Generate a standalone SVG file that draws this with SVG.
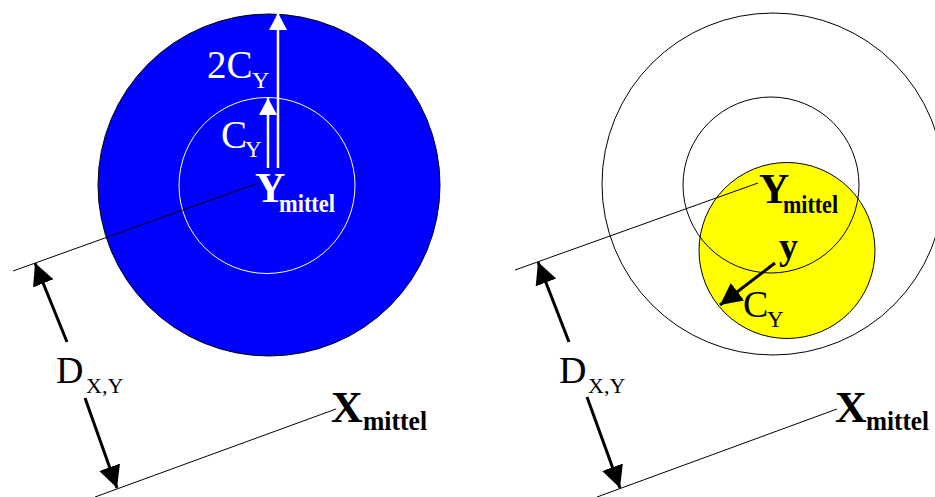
<svg xmlns="http://www.w3.org/2000/svg" width="935" height="497" viewBox="0 0 935 497">
<style>
.serif{font-family:"Liberation Serif","Times New Roman",serif}
.w{fill:#fff}
.k{fill:#000}
.b{font-weight:bold}
.thin{stroke:#000;stroke-width:1;fill:none}
.arrK{stroke:#000;stroke-width:3;fill:none;marker-end:url(#headK)}
.arrW{stroke:#fff;stroke-width:2.5;fill:none;marker-end:url(#headW)}
</style>
<defs>
<marker id="headK" markerUnits="userSpaceOnUse" markerWidth="24" markerHeight="24" refX="22" refY="11" orient="auto" viewBox="0 0 24 24">
<path d="M0,0 L22,11 L0,22 z" fill="#000"/>
</marker>
<marker id="headW" markerUnits="userSpaceOnUse" markerWidth="20" markerHeight="20" refX="17" refY="9" orient="auto" viewBox="0 0 20 20">
<path d="M0,0 L17,9 L0,18 z" fill="#fff"/>
</marker>
</defs>
<rect width="935" height="497" fill="#fff"/>

<g id="left-outer-circle"><circle cx="269" cy="185" r="171" fill="#0000FF" stroke="#000" stroke-width="1"/></g>
<g id="left-inner-circle"><circle cx="267" cy="185.5" r="88" fill="none" stroke="#fff" stroke-width="1"/></g>

<g id="right-outer-circle"><circle cx="773" cy="184" r="171" fill="none" stroke="#000" stroke-width="1"/></g>
<g id="right-yellow-circle"><circle cx="787" cy="250.5" r="88" fill="#FFFF00" stroke="#000" stroke-width="1"/></g>
<g id="right-inner-circle"><circle cx="771" cy="185" r="88" fill="none" stroke="#000" stroke-width="1"/></g>

<g id="connectors">
<line class="thin" x1="13" y1="271" x2="258" y2="183"/>
<line class="thin" x1="95" y1="497" x2="336" y2="409"/>
<line class="thin" x1="515" y1="270" x2="758" y2="183"/>
<line class="thin" x1="597" y1="497" x2="837" y2="409"/>
<line class="arrK" x1="67" y1="342" x2="35" y2="263"/>
<line class="arrK" x1="85" y1="398" x2="117" y2="488"/>
<line class="arrK" x1="569" y1="342" x2="538" y2="262"/>
<line class="arrK" x1="587" y1="397" x2="620" y2="488"/>
<line class="arrK" x1="775" y1="263" x2="720" y2="305"/>
<line class="arrW" x1="278" y1="168" x2="278" y2="13"/>
<line class="arrW" x1="268" y1="168" x2="268" y2="98"/>
</g>

<g id="label-2cy" class="serif w">
<text x="207" y="78" font-size="39">2C</text>
<text x="252" y="88" font-size="24">Y</text>
</g>
<g id="label-cy-left" class="serif w">
<text x="221" y="148" font-size="39">C</text>
<text x="245" y="157" font-size="23">Y</text>
</g>
<g id="label-ymittel-left" class="serif w b">
<text x="255" y="202" font-size="42">Y</text>
<text x="279" y="212" font-size="26" textLength="56" lengthAdjust="spacingAndGlyphs">mittel</text>
</g>
<g id="label-dxy-left" class="serif k">
<text x="56" y="383" font-size="38">D</text>
<text x="86" y="393" font-size="22">X,Y</text>
</g>
<g id="label-xmittel-left" class="serif k b">
<text x="331" y="422" font-size="44">X</text>
<text x="363" y="430" font-size="28" textLength="64" lengthAdjust="spacingAndGlyphs">mittel</text>
</g>

<g id="label-ymittel-right" class="serif k b">
<text x="759" y="203" font-size="42">Y</text>
<text x="783" y="213" font-size="26" textLength="55" lengthAdjust="spacingAndGlyphs">mittel</text>
</g>
<g id="label-y" class="serif k b">
<text x="779" y="259" font-size="38">y</text>
</g>
<g id="label-cy-right" class="serif k">
<text x="743" y="317" font-size="38">C</text>
<text x="767" y="327" font-size="23">Y</text>
</g>
<g id="label-dxy-right" class="serif k">
<text x="559" y="383" font-size="38">D</text>
<text x="588" y="393" font-size="22">X,Y</text>
</g>
<g id="label-xmittel-right" class="serif k b">
<text x="835" y="422" font-size="44">X</text>
<text x="866" y="430" font-size="28" textLength="63" lengthAdjust="spacingAndGlyphs">mittel</text>
</g>
</svg>
